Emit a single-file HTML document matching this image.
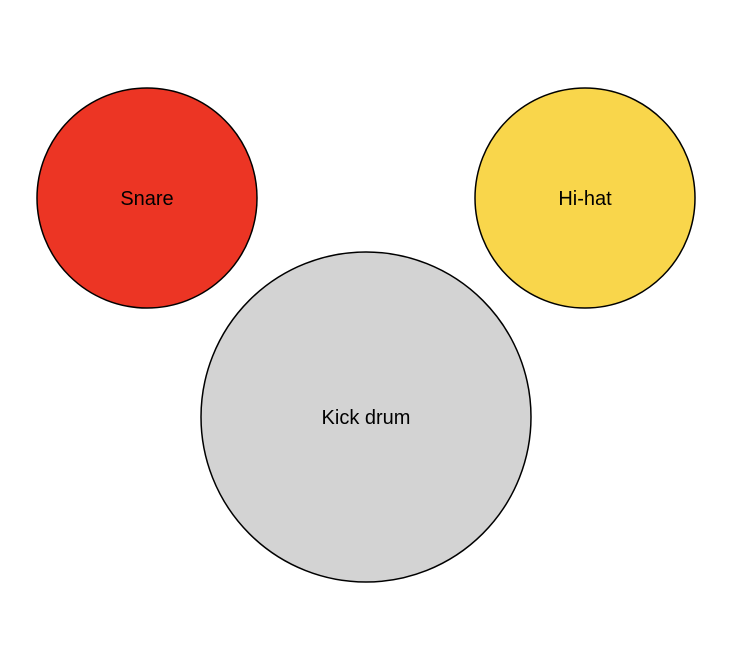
<!DOCTYPE html>
<html>
<head>
<meta charset="utf-8">
<style>
  html,body{margin:0;padding:0;background:#fff;}
  svg{display:block;}
  text{font-family:"Liberation Sans",sans-serif;font-size:20px;}
</style>
</head>
<body>
<svg id="chart" width="736" height="668" viewBox="0 0 736 668"></svg>
<script>
const labels = ["Snare", "Hi-hat", "Kick drum"];
const values = [1, 1, 2.25];
const colors = ["#EC3524", "#F9D64B", "#D3D3D3"];
const names = ["snare-circle", "hi-hat-circle", "kick-drum-circle"];
// layout anchors (not data)
const cx = [147, 585, 366];
const cy = [198, 198, 417];
const baseR = 110;
function rScale(v){ return baseR * Math.sqrt(v); }
const svg = document.getElementById('chart');
const NS = 'http://www.w3.org/2000/svg';
labels.forEach((lab, i) => {
  const g = document.createElementNS(NS, 'g');
  
  
  const c = document.createElementNS(NS, 'circle');
  c.setAttribute('cx', cx[i]);
  c.setAttribute('cy', cy[i]);
  c.setAttribute('r', rScale(values[i]));
  c.setAttribute('fill', colors[i]);
  c.setAttribute('stroke', '#000');
  c.setAttribute('stroke-width', '1.5');
  
  
  g.appendChild(c);
  const t = document.createElementNS(NS, 'text');
  t.setAttribute('x', cx[i]);
  t.setAttribute('y', cy[i] + 7);
  t.setAttribute('text-anchor', 'middle');
  t.setAttribute('fill', '#000');
  
  
  t.textContent = lab;
  g.appendChild(t);
  svg.appendChild(g);
});
</script>
</body>
</html>
